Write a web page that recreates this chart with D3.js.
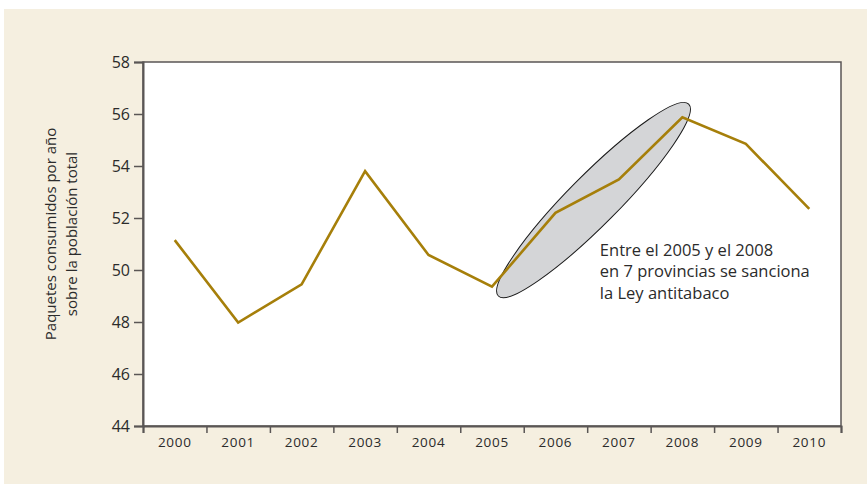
<!DOCTYPE html>
<html>
<head>
<meta charset="utf-8">
<script src="https://cdn.jsdelivr.net/npm/d3@7"></script>
<style>
  html, body { margin: 0; padding: 0; background: #ffffff; }
  svg text { font-family: "Open Sans", "Lato", sans-serif; fill: #2b2b2b; }
</style>
</head>
<body>
<div id="chart"></div>
<script>
// data
var years = [2000, 2001, 2002, 2003, 2004, 2005, 2006, 2007, 2008, 2009, 2010];
var packs = [51.15, 47.98, 49.45, 53.8, 50.58, 49.36, 52.2, 53.48, 55.87, 54.85, 52.35];
var yTicks = [44, 46, 48, 50, 52, 54, 56, 58];
var yLabel = ["Paquetes consumidos por año", "sobre la población total"];
var noteLines = ["Entre el 2005 y el 2008", "en 7 provincias se sanciona", "la Ley antitabaco"];
// ellipse around the 2005-2008 stretch, ends given in data units
var ellipseEnds = [[2005.1, 49.0], [2008.1, 56.38]];
var noteAnchor = [2006.7, 50.55];

var width = 867, height = 487;
var margin = {left: 143, right: 26, top: 62, bottom: 61};

var svg = d3.select("#chart").append("svg")
    .attr("width", width)
    .attr("height", height);

// beige panel
svg.append("rect")
    .attr("x", 4).attr("y", 9)
    .attr("width", width - 4).attr("height", 475)
    .attr("fill", "#f5efe0");

var x = d3.scaleLinear()
    .domain([years[0] - 0.5, years[years.length - 1] + 0.5])
    .range([margin.left, width - margin.right]);

var y = d3.scaleLinear()
    .domain([44, 58])
    .range([height - margin.bottom, margin.top]);

// plot area
svg.append("rect")
    .attr("x", x.range()[0]).attr("y", y.range()[1])
    .attr("width", x.range()[1] - x.range()[0])
    .attr("height", y.range()[0] - y.range()[1])
    .attr("fill", "#ffffff")
    .attr("stroke", "#5a5655")
    .attr("stroke-width", 1.5);

// y axis
var yAxis = svg.append("g")
    .attr("transform", "translate(" + margin.left + ",0)")
    .call(d3.axisLeft(y).tickValues(yTicks).tickSize(9).tickPadding(4));
yAxis.select(".domain").attr("stroke", "#5a5655").attr("stroke-width", 2);
yAxis.selectAll(".tick line").attr("stroke", "#5a5655").attr("stroke-width", 1.5);
yAxis.selectAll(".tick text")
    .style("font-size", "16px")
    .attr("fill", "#2b2b2b");

// x axis: ticks at the year boundaries, labels in the middle
var xBounds = years.map(function (d) { return d - 0.5; }).concat([years[years.length - 1] + 0.5]);
var xAxis = svg.append("g")
    .attr("transform", "translate(0," + (height - margin.bottom) + ")")
    .call(d3.axisBottom(x).tickValues(xBounds).tickSize(7).tickFormat(""));
xAxis.select(".domain").attr("stroke", "#5a5655").attr("stroke-width", 2);
xAxis.selectAll(".tick line").attr("stroke", "#5a5655").attr("stroke-width", 1.5);

svg.append("g")
    .selectAll("text")
    .data(years)
    .enter().append("text")
    .attr("x", function (d) { return x(d); })
    .attr("y", height - margin.bottom + 21)
    .attr("text-anchor", "middle")
    .style("font-size", "13.5px")
    .style("letter-spacing", "0.7px")
    .text(function (d) { return d; });

// y label
var yl = svg.append("text")
    .attr("transform", "translate(56," + (y(51) - 10) + ") rotate(-90)")
    .attr("text-anchor", "middle")
    .style("font-size", "15px");
yl.selectAll("tspan")
    .data(yLabel)
    .enter().append("tspan")
    .attr("x", 0)
    .attr("dy", function (d, i) { return i == 0 ? 0 : 21; })
    .text(function (d) { return d; });

// ellipse
var p0 = [x(ellipseEnds[0][0]), y(ellipseEnds[0][1])];
var p1 = [x(ellipseEnds[1][0]), y(ellipseEnds[1][1])];
var cx = (p0[0] + p1[0]) / 2, cy = (p0[1] + p1[1]) / 2;
var rx = Math.hypot(p1[0] - p0[0], p1[1] - p0[1]) / 2;
var angle = Math.atan2(p1[1] - p0[1], p1[0] - p0[0]) * 180 / Math.PI;
svg.append("ellipse")
    .attr("cx", 0).attr("cy", 0)
    .attr("rx", rx).attr("ry", 25)
    .attr("transform", "translate(" + cx + "," + cy + ") rotate(" + angle + ")")
    .attr("fill", "#d4d5d7")
    .attr("stroke", "#1a1a1a")
    .attr("stroke-width", 1);

// series line
var line = d3.line()
    .x(function (d, i) { return x(years[i]); })
    .y(function (d) { return y(d); });
svg.append("path")
    .datum(packs)
    .attr("d", line)
    .attr("fill", "none")
    .attr("stroke", "#a67f0a")
    .attr("stroke-width", 2.6)
    .attr("stroke-linejoin", "miter");

// note, one text per line
svg.append("g")
    .selectAll("text")
    .data(noteLines)
    .enter().append("text")
    .attr("x", x(noteAnchor[0]))
    .attr("y", function (d, i) { return y(noteAnchor[1]) + i * 21.5; })
    .style("font-size", "16.5px")
    .text(function (d) { return d; });
</script>
</body>
</html>
